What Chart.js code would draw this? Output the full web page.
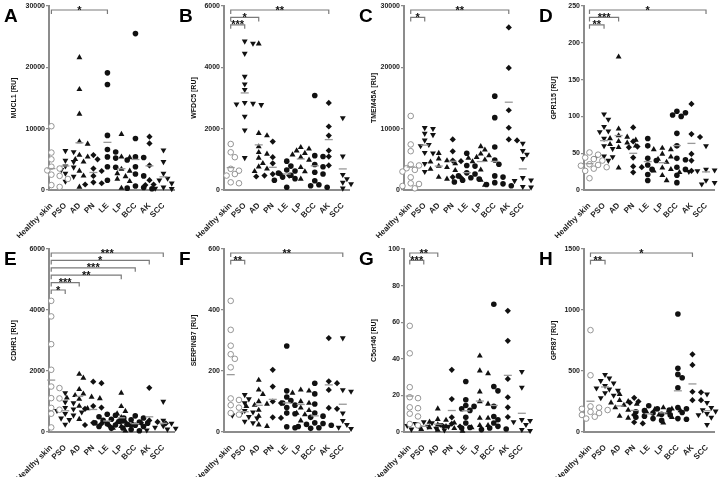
<!DOCTYPE html>
<html>
<head>
<meta charset="utf-8">
<script src="https://cdn.jsdelivr.net/npm/chart.js@4.4.1/dist/chart.umd.min.js"></script>
<style>
  body { margin: 0; background: #fff; }
  #wrap { position: relative; width: 720px; height: 477px; overflow: hidden; }
  #wrap canvas { position: absolute; }
</style>
</head>
<body>
<div id="wrap"></div>
<script>
// groups on the x axis
const groups = ['Healthy skin', 'PSO', 'AD', 'PN', 'LE', 'LP', 'BCC', 'AK', 'SCC'];

// gene per panel
const genes = ['MUCL1', 'WFDC5', 'TMEM45A', 'GPR115', 'CDHR1', 'SERPINB7', 'C5orf46', 'GPR87'];
const letters = ['A', 'B', 'C', 'D', 'E', 'F', 'G', 'H'];
const yMax = [30000, 6000, 30000, 250, 6000, 600, 100, 1500];
const yStep = [10000, 2000, 10000, 50, 2000, 200, 20, 500];

// values [RU], one list per group (same order as groups)
const mucl1 = [
  [10400, 6100, 5000, 3800, 3500, 3200, 2500, 2300, 2000, 1800, 800, 500],
  [6400, 6200, 4800, 4600, 3900, 3700, 3300, 2700, 2200, 1400],
  [21600, 16400, 12400, 7900, 7500, 5700, 5400, 5000, 4600, 3100, 2300, 500],
  [5700, 5000, 3500, 3100, 2300, 1250, 1100, 900],
  [19100, 17200, 8900, 6600, 6200, 5400, 5200, 3800, 3700, 1600],
  [9100, 5400, 5300, 3400, 3100, 2700, 2200, 1800, 1400, 300],
  [25500, 8400, 5400, 5300, 4900, 3800, 2600, 2300, 650, 400, 300, 200],
  [8700, 7600, 4000, 1600, 900, 800],
  [6500, 4600, 2700, 1900, 1600, 1100, 450, 270, 200]
];
const wfdc5 = [
  [1500, 1230, 1070, 690, 630, 520, 470, 250, 220],
  [4850, 4780, 4450, 3700, 3450, 3270, 2850, 2820, 2800, 2780, 2400, 1950, 1050],
  [4770, 1850, 1775, 1415, 1230, 1175, 1045, 870, 760, 690, 610],
  [1580, 1070, 870, 520, 500, 470, 470, 440],
  [940, 780, 650, 620, 550, 480, 420, 370, 320, 90],
  [1390, 1340, 1280, 1200, 1150, 1070, 980, 740, 600, 360],
  [3080, 1120, 1090, 830, 760, 580, 520, 300, 170, 140, 90],
  [2840, 2070, 1775, 1285, 1090, 800],
  [2350, 1100, 500, 360, 250, 200, 55]
];
const tmem45a = [
  [12070, 7430, 6330, 4150, 4000, 3550, 3280, 3000, 2070, 1090, 980, 650, 270],
  [10150, 10000, 9200, 9000, 8100, 7400, 7200, 6100, 6000, 4300, 3000],
  [6000, 5100, 4800, 4600, 4300, 3900, 3700, 3400, 3200, 2100, 1800],
  [8250, 6300, 4800, 4700, 2100, 2000],
  [6000, 4000, 3900, 2800, 2600, 2300, 2000, 1800, 1600, 1300],
  [7100, 6550, 5900, 5620, 5350, 5190, 4910, 4640, 3280, 1640, 820],
  [15300, 11800, 7000, 4900, 4200, 2300, 2100, 1200, 1000, 900, 700],
  [26500, 19900, 13000, 10150, 8250, 8080],
  [7600, 6400, 5800, 5100, 2000, 1600, 1500, 550, 450]
];
const gpr115 = [
  [51, 48, 44, 42, 40, 35, 34, 33, 31, 29, 26, 16],
  [103, 96, 86, 80, 79, 70, 60, 56, 46, 45, 44, 40],
  [181, 83, 74, 72, 70, 68, 66, 64, 62, 60, 58, 30],
  [85, 66, 59, 58, 44, 32, 31, 24],
  [70, 60, 43, 40, 34, 28, 21, 13],
  [57, 55, 55, 49, 45, 42, 38, 30, 28, 26, 24, 20, 13],
  [107, 105, 102, 100, 77, 60, 43, 41, 31, 28, 20, 10],
  [117, 76, 72, 49, 40, 26],
  [60, 28, 27, 26, 25, 25, 24, 13, 10, 8]
];
const cdhr1 = [
  [4300, 3790, 2880, 2040, 1490, 1440, 1110, 1100, 790, 730, 600, 150],
  [1280, 980, 950, 800, 750, 700, 650, 600, 550, 450, 400, 250],
  [1900, 1770, 1400, 1250, 1200, 1150, 1120, 1100, 1080, 850, 770, 420],
  [1650, 1600, 850, 800, 760, 300, 270, 230, 190],
  [580, 550, 500, 460, 420, 380, 350, 300, 270, 230, 180, 120],
  [1280, 840, 680, 600, 480, 350, 320, 220, 190, 130, 40],
  [530, 460, 400, 360, 330, 290, 250, 220, 180, 130, 80, 40],
  [1450, 380, 330, 300, 280, 250],
  [1000, 380, 280, 200, 150, 120, 90, 60]
];
const serpinb7 = [
  [430, 335, 283, 255, 240, 212, 110, 105, 88, 80, 62, 57],
  [122, 108, 95, 70, 65, 58, 55, 50, 45, 35, 30],
  [170, 138, 124, 100, 92, 88, 84, 72, 52, 24, 19],
  [204, 149, 100, 95, 48, 46],
  [282, 135, 115, 103, 95, 88, 80, 62, 60, 17, 14],
  [138, 135, 128, 100, 95, 79, 71, 62, 57, 37],
  [160, 125, 92, 62, 52, 48, 30, 28, 25, 22, 18, 14, 12],
  [308, 166, 160, 138, 79, 76],
  [308, 138, 133, 62, 37, 24, 15, 11]
];
const c5orf46 = [
  [58, 43, 24.5, 19, 18.5, 13.5, 13, 10, 8.5, 4.4, 3.6],
  [5.5, 5, 4.5, 4, 3.5, 3, 3, 2.5, 2, 2, 1.5, 1],
  [12.7, 7, 6.5, 5.5, 5, 4, 3, 2.5, 2, 1.5, 1, 0.5],
  [34, 18, 8, 4.5, 3, 3],
  [27.6, 17.6, 14.5, 14, 12.7, 11.8, 8, 4.9, 2.5, 2.2],
  [41.6, 33.5, 32, 22, 16.7, 15.3, 7.6, 7.6, 3.6, 3.6, 2.5],
  [69.8, 24.9, 22.5, 14, 8.5, 6.7, 4.9, 3.1, 2.2, 1.6, 1.3],
  [66.2, 49.8, 29, 19, 13.5, 8.2],
  [33, 24.4, 6.7, 6.2, 5.5, 4, 1.3, 0.7]
];
const gpr87 = [
  [835, 465, 210, 200, 190, 180, 165, 155, 140, 125, 110],
  [470, 440, 420, 400, 380, 360, 350, 340, 320, 300, 280],
  [310, 260, 250, 240, 230, 220, 200, 180, 130, 115],
  [280, 250, 240, 140, 80, 70],
  [215, 190, 175, 165, 155, 145, 140, 130, 120, 110, 95],
  [200, 190, 185, 175, 170, 160, 140, 120, 75],
  [967, 522, 472, 445, 363, 200, 190, 180, 160, 110, 105],
  [637, 550, 330, 325, 261, 261],
  [310, 240, 200, 180, 170, 150, 140, 120, 60]
];
const panelData = [mucl1, wfdc5, tmem45a, gpr115, cdhr1, serpinb7, c5orf46, gpr87];

// significance brackets: [from group, to group, stars]
const sigA = [[0, 4, '*']];
const sigB = [[0, 1, '***'], [0, 2, '*'], [0, 7, '**']];
const sigC = [[0, 1, '*'], [0, 7, '**']];
const sigD = [[0, 1, '**'], [0, 2, '***'], [0, 8, '*']];
const sigE = [[0, 1, '*'], [0, 2, '***'], [0, 5, '**'], [0, 6, '***'], [0, 7, '*'], [0, 8, '***']];
const sigF = [[0, 1, '**'], [0, 8, '**']];
const sigG = [[0, 1, '***'], [0, 2, '**']];
const sigH = [[0, 1, '**'], [0, 7, '*']];
const sigs = [sigA, sigB, sigC, sigD, sigE, sigF, sigG, sigH];

// marker per group
const markers = [
  { style: 'circle', rot: 0, r: 2.8, open: true },
  { style: 'triangle', rot: 180, r: 3.4 },
  { style: 'triangle', rot: 0, r: 3.4 },
  { style: 'rectRot', rot: 0, r: 3.1 },
  { style: 'circle', rot: 0, r: 2.8 },
  { style: 'triangle', rot: 0, r: 3.4 },
  { style: 'circle', rot: 0, r: 2.8 },
  { style: 'rectRot', rot: 0, r: 3.1 },
  { style: 'triangle', rot: 180, r: 3.4 }
];

// layout: gap (px) between y axis and first group, per panel
const firstGap = [2.5, 7, 7, 5.5, 2.3, 7, 6, 6.5];
const CAT_PX = 14.6;
const AXIS_LEN = 131;

const FONT = '"Liberation Sans", Arial, sans-serif';
const AXIS = '#8c8c8c';

// spread points sideways so they don't overlap (like a column scatter)
function swarm(vals, max, center) {
  const pxY = 183 / max, diam = 5.4, step = 4.3;
  const placed = [];
  vals.slice().sort((a, b) => b - a).forEach(v => {
    const py = v * pxY;
    let off = 0;
    for (let k = 0; k < 30; k++) {
      off = k === 0 ? 0 : (k % 2 ? 1 : -1) * Math.ceil(k / 2) * step;
      if (placed.every(q => Math.hypot(q.px - off, q.py - py) >= diam)) break;
    }
    placed.push({ px: off, py: py, v: v });
  });
  return placed.map(q => ({ x: center + q.px / CAT_PX, y: q.v }));
}

const mean = a => a.reduce((s, v) => s + v, 0) / a.length;

const bracketPlugin = {
  id: 'brackets',
  afterDatasetsDraw(chart, args, opts) {
    const { ctx, chartArea } = chart;
    const x = chart.scales.x;
    const list = opts.list.slice().sort((a, b) => (b[1] - b[0]) - (a[1] - a[0]));
    ctx.save();
    list.forEach((b, lvl) => {
      const y = chartArea.top + 4 + lvl * 7.4;
      const x0 = x.getPixelForValue(b[0]), x1 = x.getPixelForValue(b[1]);
      ctx.strokeStyle = '#7a7a7a';
      ctx.lineWidth = 1.2;
      ctx.beginPath();
      ctx.moveTo(x0, y + 4);
      ctx.lineTo(x0, y);
      ctx.lineTo(x1, y);
      ctx.lineTo(x1, y + 4);
      ctx.stroke();
      ctx.fillStyle = '#111';
      ctx.font = 'bold 11px ' + FONT;
      ctx.textAlign = 'center';
      ctx.textBaseline = 'alphabetic';
      ctx.fillText(b[2], (x0 + x1) / 2, y + 3.6);
    });
    // panel letter
    ctx.fillStyle = '#000';
    ctx.font = 'bold 19px ' + FONT;
    ctx.textAlign = 'left';
    ctx.fillText(opts.letter, 4, chartArea.top + 16);
    ctx.restore();
  }
};

const lefts = [0, 175, 355, 535];
const widths = [180, 180, 180, 185];

panelData.forEach((vals, k) => {
  const row = k < 4 ? 0 : 1, col = k % 4;
  const canvas = document.createElement('canvas');
  canvas.width = widths[col];
  canvas.height = row ? 239 : 238;
  canvas.style.left = lefts[col] + 'px';
  canvas.style.top = (row ? 238 : 0) + 'px';
  document.getElementById('wrap').appendChild(canvas);

  const xMin = -firstGap[k] / CAT_PX;
  const xMax = xMin + AXIS_LEN / CAT_PX;

  const datasets = [];
  // mean lines
  datasets.push({
    data: vals.map((g, i) => ({ x: i, y: mean(g) })),
    pointStyle: 'line', pointRadius: 4, borderColor: '#999', borderWidth: 1.3,
    backgroundColor: '#999', clip: false
  });
  vals.forEach((g, i) => {
    const m = markers[i];
    datasets.push({
      data: swarm(g, yMax[k], i),
      pointStyle: m.style, rotation: m.rot, pointRadius: m.r,
      backgroundColor: m.open ? '#fff' : '#111',
      borderColor: m.open ? '#8a8a8a' : '#111',
      borderWidth: m.open ? 0.9 : 0,
      clip: false
    });
  });

  new Chart(canvas, {
    type: 'scatter',
    data: { datasets },
    options: {
      responsive: false,
      animation: false,
      events: [],
      layout: { padding: { top: row ? 11 : 6, left: 0, right: 0, bottom: 0 } },
      plugins: {
        legend: { display: false },
        tooltip: { enabled: false },
        brackets: { list: sigs[k], letter: letters[k] }
      },
      scales: {
        x: {
          type: 'linear', min: xMin, max: xMax,
          afterBuildTicks: s => { s.ticks = groups.map((g, i) => ({ value: i })); },
          afterFit: s => { s.height = row ? 45 : 48; },
          grid: { display: false },
          border: { color: AXIS, width: 2 },
          ticks: {
            autoSkip: false, minRotation: 45, maxRotation: 45, padding: 3,
            color: '#222', font: { family: FONT, size: 8, weight: 'bold' },
            callback: v => groups[v]
          }
        },
        y: {
          min: 0, max: yMax[k],
          afterFit: s => { s.width = 49; },
          grid: { drawOnChartArea: false, tickLength: 3, color: AXIS, lineWidth: 1.2 },
          border: { color: AXIS, width: 2 },
          ticks: {
            stepSize: yStep[k], padding: 1, color: '#222',
            font: { family: FONT, size: 7, weight: 'bold' },
            callback: v => String(v)
          },
          title: {
            display: true, text: genes[k] + ' [RU]', color: '#111',
            font: { family: FONT, size: 7, weight: 'bold' },
            padding: { top: k === 0 || k === 4 ? 10 : 15, bottom: 0 }
          }
        }
      }
    },
    plugins: [bracketPlugin]
  });
});
</script>
</body>
</html>
